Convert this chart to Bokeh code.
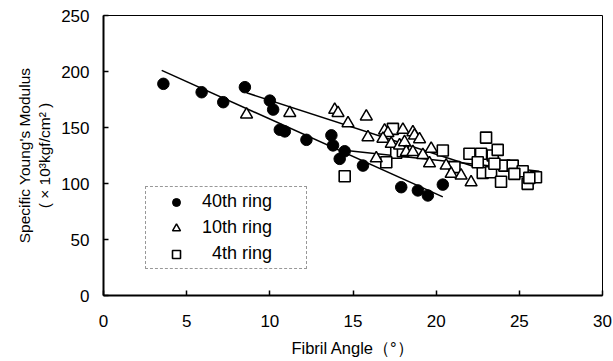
from bokeh.plotting import figure
from bokeh.models import Range1d, FixedTicker, Legend, LegendItem
from bokeh.embed import file_html
from bokeh.resources import INLINE

# ---- data ----
ring40_x = [3.6, 5.9, 7.2, 8.5, 10.0, 10.2, 10.6, 10.9, 12.2, 13.7, 13.8, 14.2, 14.5, 15.6, 17.9, 18.9, 19.5, 20.4]
ring40_y = [189, 181.5, 172.6, 186, 174, 166, 148, 146.5, 139, 143, 134, 122, 128.8, 116, 96.7, 93.8, 89.3, 99]

ring10_x = [8.6, 11.2, 13.9, 14.1, 14.7, 15.8, 15.9, 16.4, 16.9, 17.1, 16.8, 17.3, 17.8, 18.0, 18.1,
            18.6, 18.7, 19.0, 18.2, 18.6, 19.2, 19.7, 19.6, 20.6, 20.9, 21.5, 22.1]
ring10_y = [161.6, 163, 165.8, 163, 153.8, 159.8, 141.3, 122.5, 147.3, 145, 140, 135.4, 134, 148, 136.9,
            145.8, 142.9, 139.5, 128, 128, 125.5, 131, 118, 116, 108.6, 107, 101]

ring4_x = [14.5, 17.4, 17.6, 17.0, 18.0, 20.4, 21.1, 22.0, 23.0, 22.7, 23.4, 23.7, 22.8, 23.3,
           23.9, 24.1, 24.6, 25.2, 25.5, 26.0, 23.5, 24.7, 25.6, 22.5]
ring4_y = [106.5, 148.8, 127.5, 119, 128.8, 129.5, 114.6, 126.5, 141, 126.5, 125, 130, 109.5, 110,
           101.5, 116, 116, 111, 99.7, 105.6, 117.6, 108.6, 105, 119]

# regression lines (end points)
fit40_x = [3.5, 20.4]
fit40_y = [201, 88]
fit10_x = [8.6, 22.5]
fit10_y = [181, 114]
fit4_x = [14.6, 26.2]
fit4_y = [129.5, 111]

x_ticks = [0, 5, 10, 15, 20, 25, 30]
y_ticks = [0, 50, 100, 150, 200, 250]
labels = ["40th ring", "10th ring", "\u00a0\u00a04th ring"]

FONT = "Liberation Sans"

p = figure(width=613, height=361, output_backend="svg", toolbar_location=None,
           x_range=Range1d(0, 30), y_range=Range1d(0, 250),
           min_border_left=103, min_border_right=11, min_border_top=15, min_border_bottom=66)
p.background_fill_color = "white"
p.border_fill_color = "white"
p.outline_line_color = "black"
p.outline_line_width = 1
p.xgrid.visible = False
p.ygrid.visible = False

for ax, ticks in ((p.xaxis[0], x_ticks), (p.yaxis[0], y_ticks)):
    ax.ticker = FixedTicker(ticks=ticks)
    ax.major_tick_in = 5
    ax.major_tick_out = 0
    ax.minor_tick_line_color = None
    ax.axis_line_width = 2
    ax.axis_line_color = "black"
    ax.major_tick_line_color = "black"
    ax.major_tick_line_width = 1.5
    ax.major_label_text_font = FONT
    ax.major_label_text_font_size = "17px"
    ax.major_label_text_color = "black"
    ax.axis_label_text_font = FONT
    ax.axis_label_text_font_size = "15.5px"
    ax.axis_label_text_font_style = "normal"
    ax.axis_label_text_color = "black"

p.xaxis.major_label_standoff = 19
p.yaxis.major_label_standoff = 14
p.xaxis.axis_label = "Fibril Angle\uff08\u00b0\uff09"
p.xaxis.axis_label_text_font_size = "16.5px"
p.xaxis.axis_label_standoff = 9
p.yaxis.axis_label = "Specific Young's Modulus\n( \u00d7 10\u00b3kgf/cm\u00b2 )"
p.yaxis.axis_label_standoff = 5

p.line(fit40_x, fit40_y, line_color="black", line_width=1.5)
p.line(fit10_x, fit10_y, line_color="black", line_width=1.5)
p.line(fit4_x, fit4_y, line_color="black", line_width=1.5)

r4 = p.scatter(ring4_x, ring4_y, marker="square", size=11, fill_color="white",
               line_color="black", line_width=1.6)
r10 = p.scatter(ring10_x, ring10_y, marker="triangle", size=12, fill_color="white",
                line_color="black", line_width=1.5)
r40 = p.scatter(ring40_x, ring40_y, marker="circle", size=11.5, fill_color="black",
                line_color="black")

legend = Legend(items=[LegendItem(label=labels[0], renderers=[r40]),
                       LegendItem(label=labels[1], renderers=[r10]),
                       LegendItem(label=labels[2], renderers=[r4])],
                location=(42, 26), orientation="vertical")
legend.margin = 0
legend.padding = 4
legend.spacing = 5
legend.glyph_width = 52
legend.glyph_height = 20
legend.label_height = 21
legend.label_width = 100
legend.label_standoff = 0
legend.label_text_font = FONT
legend.label_text_font_size = "18px"
legend.label_text_color = "black"
legend.border_line_color = "#333333"
legend.border_line_width = 1
legend.border_line_dash = "4 1"
legend.background_fill_color = "white"
legend.background_fill_alpha = 1
p.add_layout(legend)

open("out.html", "w").write(file_html(p, INLINE))
